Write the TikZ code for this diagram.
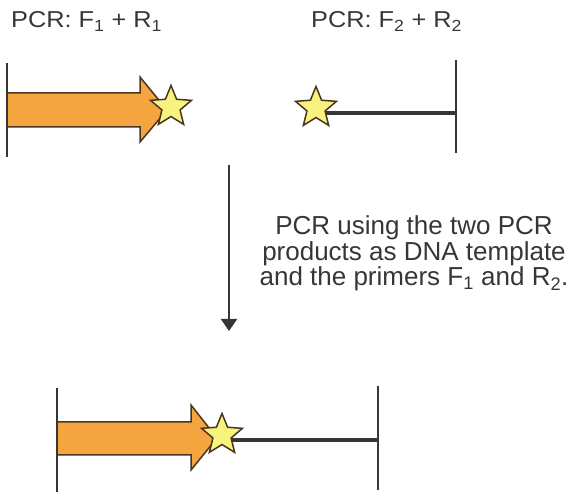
\documentclass[tikz,border=0pt]{standalone}
\usepackage{fontspec}
\setmainfont{Liberation Sans}
\newfontfamily\toplabfont[FakeStretch=1.1]{Liberation Sans}
\usetikzlibrary{shapes.geometric,arrows.meta}
\definecolor{ink}{HTML}{3A3535}
\definecolor{arrowfill}{HTML}{F4A540}
\definecolor{arrowline}{HTML}{4A3520}
\definecolor{starfill}{HTML}{F8F37E}
\tikzset{
  tick/.style={draw=ink, line width=2pt},
  strand/.style={draw=ink, line width=3.2pt},
  fwd/.style={fill=arrowfill, draw=arrowline, line width=1.5pt, line join=miter},
  tag/.style={star, star points=5, star point ratio=2.25, minimum size=43pt, inner sep=0pt,
    fill=starfill, draw=arrowline, line width=1.5pt},
  toplab/.style={text=ink, font=\toplabfont\fontsize{23}{27}\selectfont, inner sep=0pt, anchor=base west},
  midlab/.style={text=ink, font=\fontsize{26}{26}\selectfont, inner sep=0pt, anchor=base},
  flow/.style={draw=ink, line width=2pt, -{Triangle[length=12pt,width=16pt]}},
}
\begin{document}
\begin{tikzpicture}[x=1pt,y=-1pt]
\useasboundingbox (0,0) rectangle (571,494);
% top labels
\node[toplab] (l1) at (11,28) {PCR: F\textsubscript{1} + R\textsubscript{1}};
\node[toplab] (l2) at (311,28) {PCR: F\textsubscript{2} + R\textsubscript{2}};
% top-left product
\path[fwd] (7,93) -- (140,93) -- (140,77) -- (167,110) -- (140,142) -- (140,127) -- (7,127) -- cycle;
\coordinate (t1a) at (7,63);
\coordinate (t1b) at (7,157);
\draw[tick] (t1a) -- (t1b);
\node[tag] (s1) at (171,107) {};
% top-right product
\coordinate (b2) at (318,113);
\coordinate (e2) at (456,113);
\draw[strand] (b2) -- (e2);
\coordinate (t2a) at (456,60);
\coordinate (t2b) at (456,153);
\draw[tick] (t2a) -- (t2b);
\node[tag] (s2) at (316,108) {};
% down arrow
\coordinate (d0) at (229,165);
\coordinate (d1) at (229,331);
\draw[flow] (d0) -- (d1);
% middle text
\node[midlab] (m1) at (414,235) {PCR using the two PCR};
\node[midlab] (m2) at (414,261) {products as DNA template};
\node[midlab] (m3) at (414,286) {and the primers F\textsubscript{1} and R\textsubscript{2}.};
% bottom product
\coordinate (b3) at (222,440);
\coordinate (e3) at (378,440);
\draw[strand] (b3) -- (e3);
\path[fwd] (57,422) -- (191,422) -- (191,405) -- (217,438) -- (191,470) -- (191,455) -- (57,455) -- cycle;
\coordinate (t3a) at (57,388);
\coordinate (t3b) at (57,492);
\draw[tick] (t3a) -- (t3b);
\coordinate (t4a) at (378,386);
\coordinate (t4b) at (378,490);
\draw[tick] (t4a) -- (t4b);
\node[tag] (s3) at (222,435) {};
\end{tikzpicture}
\end{document}
